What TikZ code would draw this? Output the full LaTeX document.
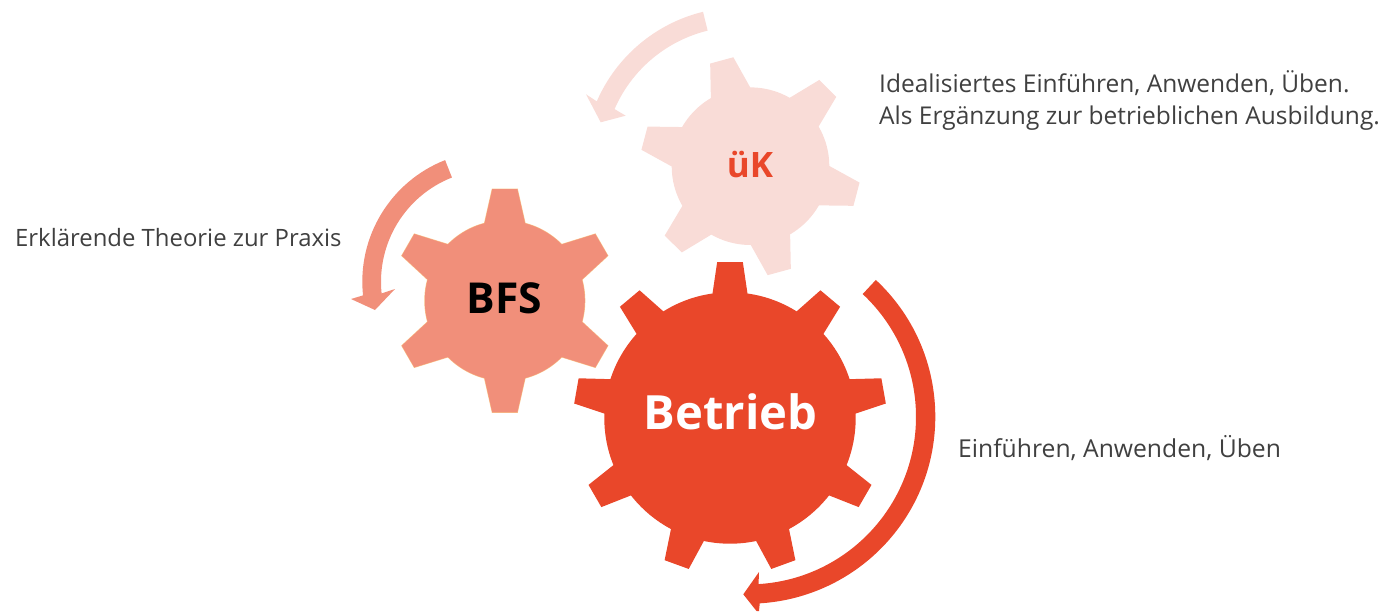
\documentclass[tikz,border=0pt]{standalone}
\usepackage{fontspec}
\usetikzlibrary{calc}
\setmainfont{Open Sans}
\definecolor{cRed}{HTML}{E9472A}
\definecolor{cMid}{HTML}{F18F7A}
\definecolor{cLight}{HTML}{F9DCD7}
\definecolor{cEdge}{HTML}{F9C58A}
\definecolor{cText}{HTML}{404040}
% #1 x, #2 y, #3 hub radius, #4 tip radius, #5 teeth, #6 rotation, #7 base half angle, #8 tip half angle, #9 style
\newcommand{\gearshape}[9]{%
  \pgfmathsetmacro{\gstep}{360/#5}%
  \path[#9] (#1pt,#2pt) circle[radius=#3pt];
  \foreach \k in {1,...,#5}{%
    \pgfmathsetmacro{\ga}{-90+#6+\k*\gstep}%
    \path[#9] (#1pt,#2pt)+(\ga-#7:#3pt) -- +(\ga-#8:#4pt) -- +(\ga+#8:#4pt) -- +(\ga+#7:#3pt) -- +(\ga+#7+0.1:#3pt-3pt) -- +(\ga-#7-0.1:#3pt-3pt) -- cycle;
  }%
}
\tikzset{
  gearRed/.style={fill=cRed},
  gearMid/.style={fill=cMid},
  gearEdge/.style={draw=cEdge,line width=1pt},
  gearLight/.style={fill=cLight},
  label text/.style={text=cText, anchor=base west, inner sep=0pt, align=left},
  gear text/.style={inner sep=0pt, anchor=base}
}
\begin{document}
\begin{tikzpicture}[x=1pt,y=1pt,yscale=-1]
\useasboundingbox (0,0) rectangle (1384,611);
% arrows
\fill[cLight] (740.2,163.7)+(256.25:156.4pt) arc[start angle=256.25,end angle=203.5,radius=156.4pt]
  -- (586,94.3) -- (600.7,122.3) -- (625.7,115.7)
  -- ($(740.2,163.7)+(203.5:137pt)$) arc[start angle=203.5,end angle=256.25,radius=137pt] -- cycle;
\fill[cMid] (493,281.7)+(248.5:130.7pt) arc[start angle=248.5,end angle=174,radius=130.7pt]
  -- (351,299) -- (375,310) -- (395,289)
  -- ($(493,281.7)+(174:112pt)$) arc[start angle=174,end angle=248.5,radius=112pt] -- cycle;
\fill[cRed] (748.3,416.7)+(-47:187pt) arc[start angle=-47,end angle=86.5,radius=187pt]
  -- (759,611) -- (756.5,611) -- (743.3,594.3) -- (759,572)
  -- ($(748.3,416.7)+(86.5:167.7pt)$) arc[start angle=86.5,end angle=-47,radius=167.7pt] -- cycle;
% gears
\gearshape{750.5}{166.2}{78.8}{110.3}{6}{-15.2}{15}{6.25}{gearLight}
\gearshape{504.8}{300.7}{80}{112.4}{6}{0}{14.7}{6.4}{gearEdge}
\gearshape{504.8}{300.7}{80}{112.4}{6}{0}{14.7}{6.4}{gearMid}
\gearshape{730}{418}{125.7}{156.5}{9}{0}{8}{4.7}{gearRed}
% gear labels
\node[gear text, text=cRed, font=\fontsize{35}{38}\selectfont\bfseries] (uk) at (750,177.7) {üK};
\node[gear text, text=black, font=\fontsize{42.6}{48}\selectfont\bfseries] (bfs) at (504.5,313.5) {BFS};
\node[gear text, text=white, font=\fontsize{47.2}{54}\selectfont\bfseries] (betrieb) at (730.5,429) {Betrieb};
% side labels
\node[label text, font=\fontsize{24.5}{32}\selectfont] (t1) at (879,124.5) {Idealisiertes Einführen, Anwenden, Üben.\\Als Ergänzung zur betrieblichen Ausbildung.};
\node[label text, font=\fontsize{23.9}{31}\selectfont] (t2) at (15,246) {Erklärende Theorie zur Praxis};
\node[label text, font=\fontsize{24.7}{31}\selectfont] (t3) at (958,457) {Einführen, Anwenden, Üben};
\end{tikzpicture}
\end{document}
